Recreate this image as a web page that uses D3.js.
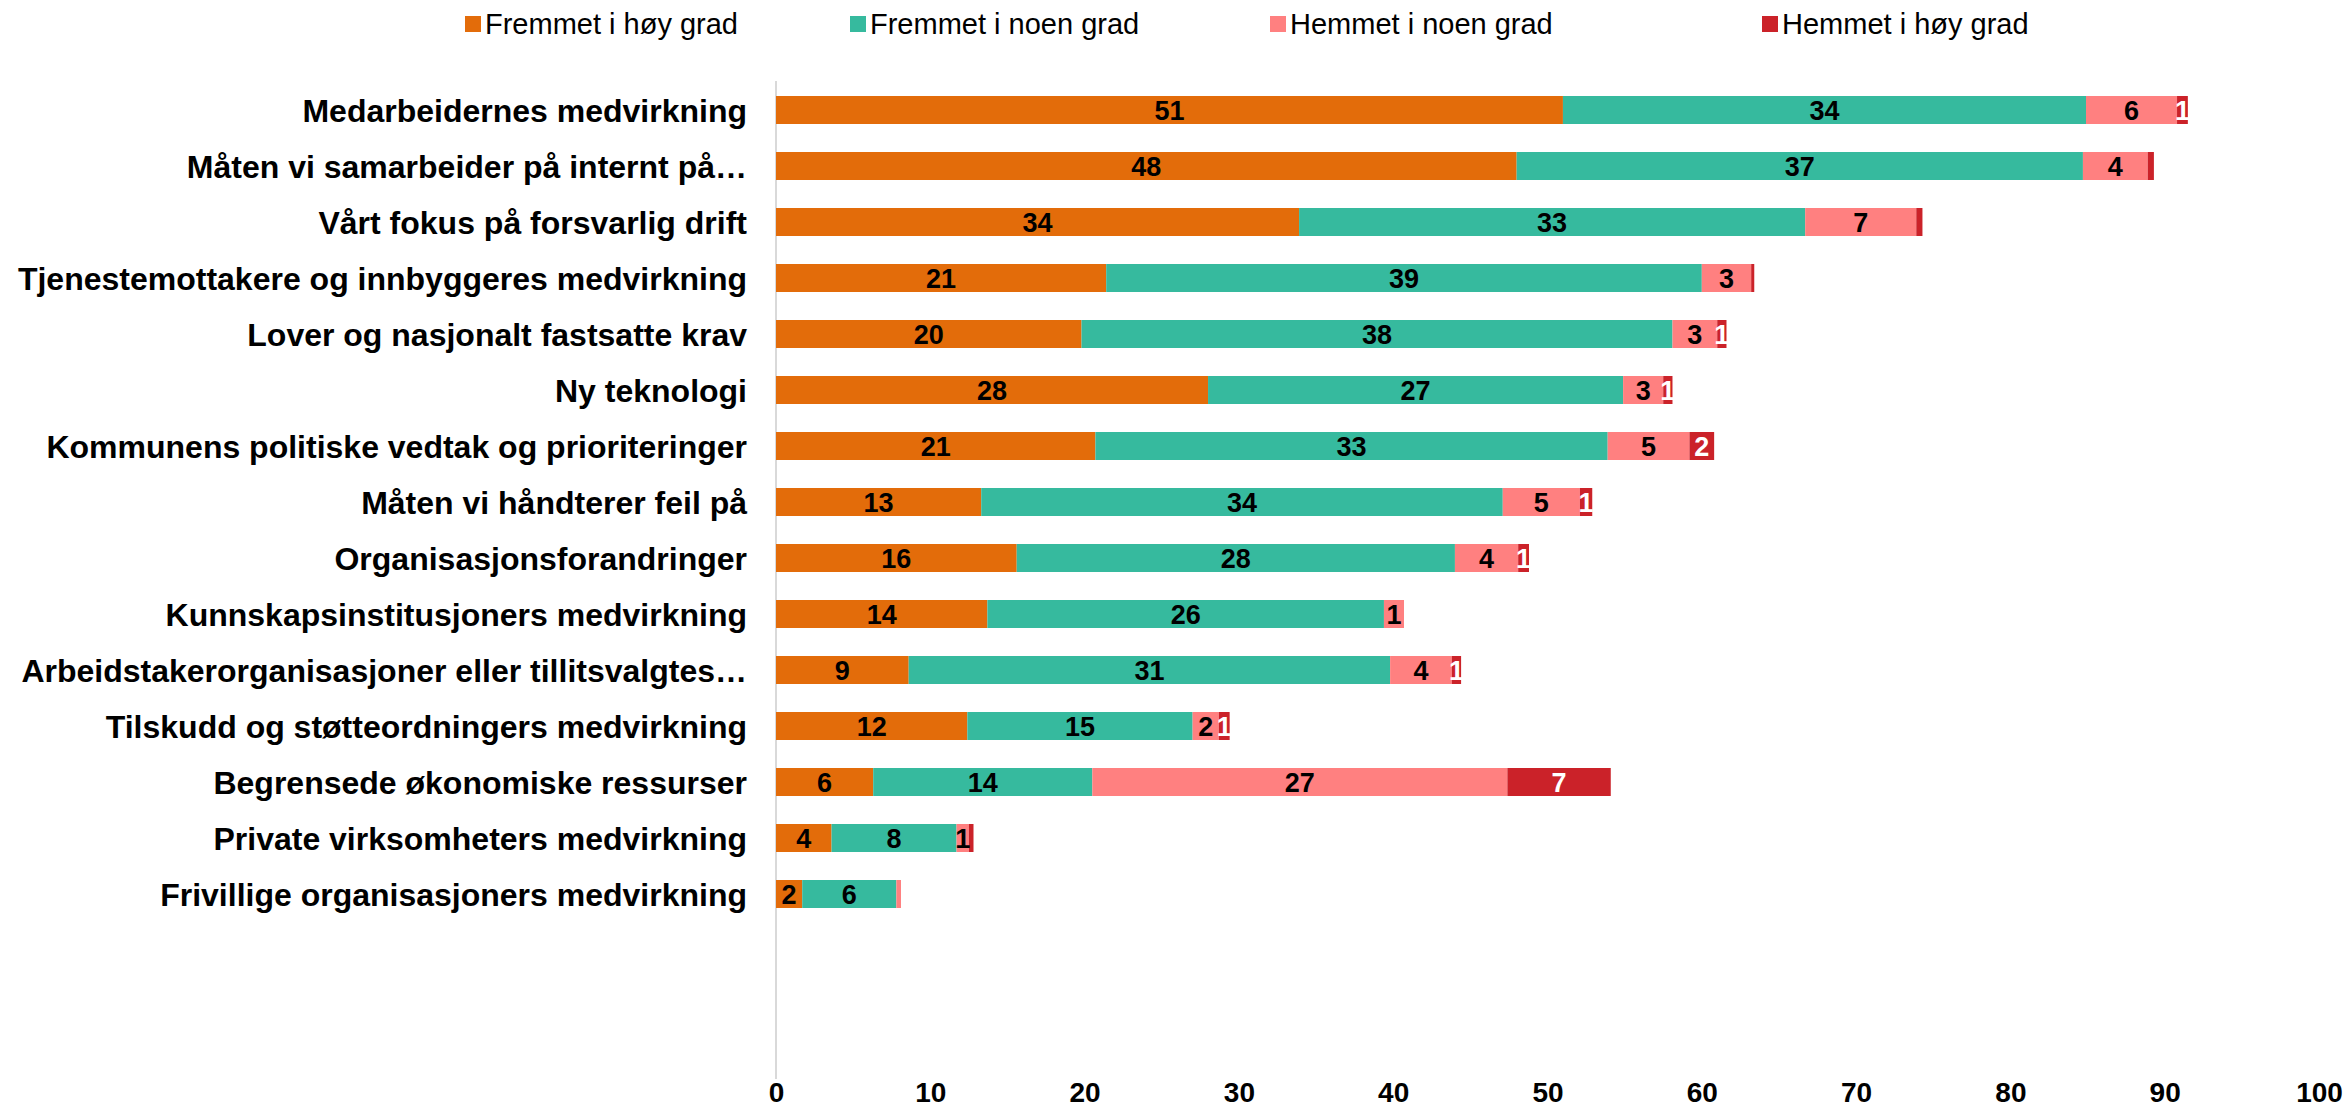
<!DOCTYPE html>
<html><head><meta charset="utf-8">
<script src="https://cdn.jsdelivr.net/npm/d3@7"></script>
<style>html,body{margin:0;background:#fff;overflow:hidden}svg{display:block}</style>
</head><body>
<svg id="c" width="2349" height="1117"></svg>
<script>
const categories = [
  "Medarbeidernes medvirkning",
  "Måten vi samarbeider på internt på…",
  "Vårt fokus på forsvarlig drift",
  "Tjenestemottakere og innbyggeres medvirkning",
  "Lover og nasjonalt fastsatte krav",
  "Ny teknologi",
  "Kommunens politiske vedtak og prioriteringer",
  "Måten vi håndterer feil på",
  "Organisasjonsforandringer",
  "Kunnskapsinstitusjoners medvirkning",
  "Arbeidstakerorganisasjoner eller tillitsvalgtes…",
  "Tilskudd og støtteordningers medvirkning",
  "Begrensede økonomiske ressurser",
  "Private virksomheters medvirkning",
  "Frivillige organisasjoners medvirkning"
];
const seriesNames = ["Fremmet i høy grad","Fremmet i noen grad","Hemmet i noen grad","Hemmet i høy grad"];
const fremmetHoy   = [51.0,48.0,33.9,21.4,19.8,28.0,20.7,13.3,15.6,13.7,8.6,12.4,6.3,3.6,1.7];
const fremmetNoen  = [33.9,36.7,32.8,38.6,38.3,26.9,33.2,33.8,28.4,25.7,31.2,14.6,14.2,8.1,6.1];
const hemmetNoen   = [5.9,4.2,7.2,3.2,2.9,2.6,5.3,5.0,4.1,1.3,4.0,1.7,26.9,0.8,0.3];
const hemmetHoy    = [0.7,0.4,0.4,0.2,0.6,0.6,1.6,0.8,0.7,0.0,0.6,0.7,6.7,0.3,0.0];
const xTicks = [0,10,20,30,40,50,60,70,80,90,100];
const colors = ["#E36C0A","#36BA9E","#FF8080","#CB2229"];
const labelColors = ["#000","#000","#000","#fff"];
const FONT = "Liberation Sans, Arial, Helvetica, sans-serif";

const rows = categories.map((c,i)=>({cat:c, vals:[fremmetHoy[i],fremmetNoen[i],hemmetNoen[i],hemmetHoy[i]]}));
const svg = d3.select("#c");
const x = d3.scaleLinear().domain([0,100]).range([776,2319]);
const y = d3.scaleBand().domain(categories).range([82,922]).paddingInner(0.5).paddingOuter(0.25);

svg.append("line").attr("x1",x(0)).attr("x2",x(0)).attr("y1",81).attr("y2",1079)
  .attr("stroke","#d9d9d9").attr("stroke-width",2);

const stackData = d3.stack().keys([0,1,2,3]).value((d,k)=>d.vals[k])(rows);
const g = svg.append("g");
stackData.forEach((layer,k)=>{
  g.selectAll(null).data(layer).enter().append("rect")
    .attr("x",d=>x(d[0])).attr("width",d=>x(d[1])-x(d[0]))
    .attr("y",d=>y(d.data.cat)).attr("height",y.bandwidth())
    .attr("fill",colors[k]);
});
stackData.forEach((layer,k)=>{
  g.selectAll(null).data(layer.filter(d=>Math.round(d[1]-d[0])>=1)).enter().append("text")
    .attr("x",d=>(x(d[0])+x(d[1]))/2).attr("y",d=>y(d.data.cat)+y.bandwidth()/2)
    .attr("dy","0.36em").attr("text-anchor","middle")
    .attr("font-family",FONT).attr("font-weight","bold")
    .attr("font-size",27).attr("fill",labelColors[k])
    .text(d=>d3.format(".0f")(d[1]-d[0]));
});

svg.append("g").selectAll("text").data(categories).enter().append("text")
  .attr("x",747).attr("y",d=>y(d)+y.bandwidth()/2).attr("dy","0.36em")
  .attr("text-anchor","end").attr("font-family",FONT)
  .attr("font-weight","bold").attr("font-size",32).attr("fill","#000").text(d=>d);

const xAxis = d3.axisBottom(x).tickValues(xTicks).tickSize(0).tickPadding(0);
const ax = svg.append("g").attr("transform","translate(0,1082)").call(xAxis);
ax.select(".domain").remove();
ax.selectAll("text").attr("font-family",FONT)
  .attr("font-weight","bold").attr("font-size",28).attr("fill","#000");

const legX = [465,850,1270,1762];
const leg = svg.append("g").selectAll("g").data(seriesNames).enter().append("g")
  .attr("transform",(d,i)=>`translate(${legX[i]},0)`);
leg.append("rect").attr("x",0).attr("y",16).attr("width",16).attr("height",16).attr("fill",(d,i)=>colors[i]);
leg.append("text").attr("x",20).attr("y",24).attr("dy","0.36em")
  .attr("font-family",FONT).attr("font-size",29).attr("fill","#000").text(d=>d);
</script>
</body></html>
